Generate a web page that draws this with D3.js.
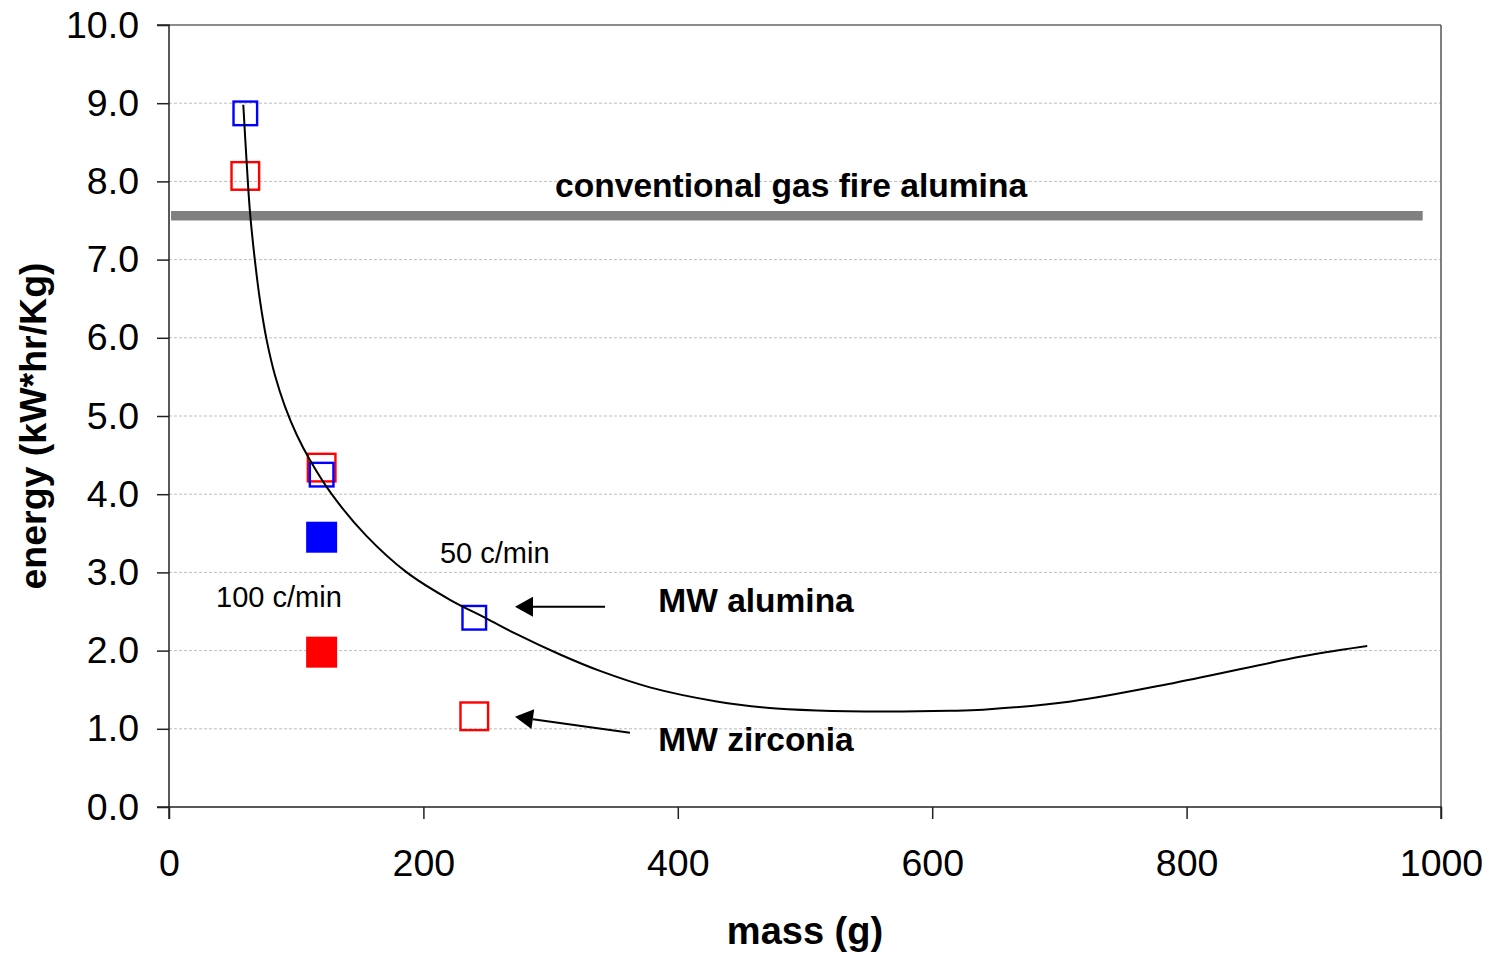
<!DOCTYPE html>
<html><head><meta charset="utf-8">
<script src="https://cdn.jsdelivr.net/npm/d3@7"></script>
<style>body{margin:0;background:#fff} svg{display:block} text{font-family:"Liberation Sans",Arial,sans-serif;fill:#000}</style>
</head><body><svg id="c" width="1492" height="954"></svg>
<script>
// ---- data ----
const xTicks = [0, 200, 400, 600, 800, 1000];
const yTicks = [0, 1, 2, 3, 4, 5, 6, 7, 8, 9, 10];
const curveMass   = [58.4, 61.1, 63.7, 67.6, 71.5, 76.8, 83.3, 91.2, 100.4, 111, 127.9, 155, 186.9, 220.9, 249.8, 273.3, 307.4, 338.8, 378.1, 430.6, 469.9, 509.2, 561.3, 614, 640, 709, 791, 889, 922, 942];
const curveEnergy = [8.98, 8.23, 7.60, 6.98, 6.48, 5.97, 5.52, 5.12, 4.76, 4.43, 4.00, 3.47, 3.00, 2.65, 2.41, 2.21, 1.95, 1.74, 1.53, 1.35, 1.27, 1.235, 1.22, 1.23, 1.245, 1.35, 1.59, 1.92, 2.01, 2.06];
const aluminaOpenMass = [60, 120, 240];
const aluminaOpenEnergy = [8.87, 4.25, 2.42];
const zirconiaOpenMass = [60, 120, 240];
const zirconiaOpenEnergy = [8.07, 4.34, 1.16];
const aluminaFilledMass = [120];
const aluminaFilledEnergy = [3.45];
const zirconiaFilledMass = [120];
const zirconiaFilledEnergy = [1.98];
const gasMass = [1.6, 985.6];
const gasEnergy = [7.56, 7.56];
const labelTexts = ["conventional gas fire alumina", "MW alumina", "MW zirconia", "100 c/min", "50 c/min"];
const labelMass = [303.5, 384.7, 384.7, 37, 213];
const labelEnergy = [7.80, 2.49, 0.72, 2.56, 3.12];
const arrowTailMass = [342.8, 362.4];
const arrowTailEnergy = [2.56, 0.95];
const arrowTipMass = [272, 272];
const arrowTipEnergy = [2.56, 1.155];

// ---- layout ----
const L = 169, R = 1441, T = 25, B = 807;
const svg = d3.select("#c");
const x = d3.scaleLinear().domain([0, 1000]).range([L, R]);
const y = d3.scaleLinear().domain([0, 10]).range([B, T]);

// gridlines
svg.append("g").selectAll("line").data(yTicks.filter(d => d > 0 && d < 10)).join("line")
  .attr("x1", L).attr("x2", R).attr("y1", d => y(d)).attr("y2", d => y(d))
  .attr("stroke", "#bdbdbd").attr("stroke-width", 1).attr("stroke-dasharray", "3,2");

// frame top/right
svg.append("line").attr("x1", L).attr("x2", R).attr("y1", y(10)).attr("y2", y(10)).attr("stroke", "#666").attr("stroke-width", 1.5);
svg.append("line").attr("x1", R).attr("x2", R).attr("y1", T).attr("y2", B).attr("stroke", "#555").attr("stroke-width", 1.5);

// gas-fire line
svg.append("line").attr("x1", x(gasMass[0])).attr("x2", x(gasMass[1]))
  .attr("y1", y(gasEnergy[0])).attr("y2", y(gasEnergy[1]))
  .attr("stroke", "#808080").attr("stroke-width", 9.5);

// markers
function squares(mass, energy, size, color, filled) {
  const pts = mass.map((m, i) => [m, energy[i]]);
  const sw = 2.4;
  svg.append("g").selectAll("rect").data(pts).join("rect")
    .attr("x", d => x(d[0]) - size / 2 + (filled ? 0 : sw / 2))
    .attr("y", d => y(d[1]) - size / 2 + (filled ? 0 : sw / 2))
    .attr("width", filled ? size : size - sw).attr("height", filled ? size : size - sw)
    .attr("fill", filled ? color : "none").attr("stroke", filled ? "none" : color).attr("stroke-width", sw);
}
squares(zirconiaOpenMass, zirconiaOpenEnergy, 30, "#ff0000", false);
squares(aluminaOpenMass, aluminaOpenEnergy, 26, "#0000ff", false);
squares(aluminaFilledMass, aluminaFilledEnergy, 31, "#0000ff", true);
squares(zirconiaFilledMass, zirconiaFilledEnergy, 31, "#ff0000", true);

// trend curve
const curvePts = curveMass.map((m, i) => [m, curveEnergy[i]]);
svg.append("path").datum(curvePts)
  .attr("d", d3.line().x(d => x(d[0])).y(d => y(d[1])).curve(d3.curveCatmullRom.alpha(0.5)))
  .attr("fill", "none").attr("stroke", "#000").attr("stroke-width", 2);

// axes
const yAxis = svg.append("g").attr("transform", `translate(${L},0)`)
  .call(d3.axisLeft(y).tickValues(yTicks).tickFormat(d3.format(".1f")).tickSize(12).tickPadding(18));
const xAxis = svg.append("g").attr("transform", `translate(0,${B})`)
  .call(d3.axisBottom(x).tickValues(xTicks).tickFormat(d3.format("d")).tickSize(12).tickPadding(30));
[yAxis, xAxis].forEach(a => {
  a.select(".domain").attr("stroke", "#222").attr("stroke-width", 1.5);
  a.selectAll(".tick line").attr("stroke", "#222").attr("stroke-width", 1.5);
  a.selectAll("text").attr("font-size", 37.5).attr("font-family", "Liberation Sans, Arial, sans-serif").attr("fill", "#000");
});
yAxis.select(".domain").attr("d", `M-12,${B}H0V${T}H-12`);
xAxis.select(".domain").attr("d", `M${L},12V0H${R}V12`);
xAxis.selectAll("text").attr("dy", "0.71em");

// axis titles
svg.append("text").attr("x", (L + R) / 2).attr("y", 944).attr("text-anchor", "middle")
  .attr("font-size", 38).attr("font-weight", "bold").text("mass (g)");
svg.append("text").attr("transform", `translate(46,${(T + B) / 2 + 10}) rotate(-90)`).attr("text-anchor", "middle")
  .attr("font-size", 37.5).attr("font-weight", "bold").text("energy (kW*hr/Kg)");

// labels
const labelSize = [33.6, 33.5, 33.5, 29, 29];
const labelWeight = ["bold", "bold", "bold", "normal", "normal"];
svg.append("g").selectAll("text").data(labelTexts).join("text")
  .attr("x", (d, i) => x(labelMass[i])).attr("y", (d, i) => y(labelEnergy[i]))
  .attr("font-size", (d, i) => labelSize[i]).attr("font-weight", (d, i) => labelWeight[i]).text(d => d);

// arrows
arrowTailMass.forEach((m, i) => {
  const x0 = x(m), y0 = y(arrowTailEnergy[i]), x1 = x(arrowTipMass[i]), y1 = y(arrowTipEnergy[i]);
  const ang = Math.atan2(y1 - y0, x1 - x0);
  const len = 18, hw = 10;
  const bx = x1 - len * Math.cos(ang), by = y1 - len * Math.sin(ang);
  svg.append("line").attr("x1", x0).attr("y1", y0).attr("x2", bx).attr("y2", by).attr("stroke", "#000").attr("stroke-width", 2);
  const p = [[x1, y1], [bx + hw * Math.sin(ang), by - hw * Math.cos(ang)], [bx - hw * Math.sin(ang), by + hw * Math.cos(ang)]];
  svg.append("path").attr("d", "M" + p.map(q => q.join(",")).join("L") + "Z").attr("fill", "#000");
});
</script></body></html>
